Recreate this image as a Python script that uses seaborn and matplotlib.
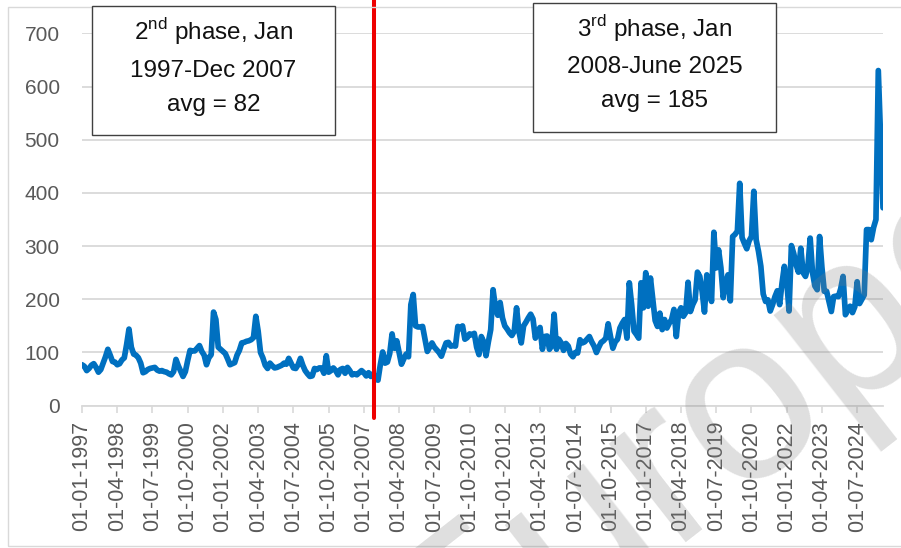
import matplotlib
matplotlib.use("Agg")
import matplotlib.pyplot as plt
import matplotlib.transforms as mtransforms
from matplotlib.patches import Rectangle
import seaborn as sns
import pandas as pd
import numpy as np

# ---------------- data (monthly, Jan 1997 - Jun 2025) ----------------
start_month = "1997-01-01"

phase2_values = [
    77, 74, 66, 70, 76, 79, 72, 63, 68, 80, 92, 106,        # 1997
    95, 83, 82, 77, 79, 86, 90, 115, 144, 110, 97, 95,      # 1998
    90, 80, 62, 64, 68, 70, 71, 72, 67, 65, 66, 64,         # 1999
    63, 60, 58, 64, 87, 75, 65, 55, 64, 85, 104, 103,       # 2000
    103, 108, 113, 102, 95, 77, 90, 96, 176, 162, 110, 106, # 2001
    102, 98, 88, 77, 79, 81, 95, 104, 118, 119, 121, 122,   # 2002
    124, 128, 168, 140, 100, 90, 76, 70, 80, 75, 71, 72,    # 2003
    74, 76, 80, 78, 89, 80, 71, 70, 77, 89, 76, 66,         # 2004
    60, 55, 56, 70, 68, 71, 71, 61, 94, 63, 66, 71,         # 2005
    66, 58, 68, 70, 61, 72, 66, 58, 60, 58, 62, 66,         # 2006
    62, 56, 62, 55, 60, 50, 48, 77, 101, 80, 82, 98,        # 2007
]

phase3_values = [
    135, 108, 122, 100, 78, 88, 97, 92, 190, 209, 150, 148,     # 2008
    148, 149, 125, 102, 110, 118, 110, 105, 100, 93, 106, 118,  # 2009
    119, 112, 113, 112, 149, 145, 150, 125, 128, 135, 133, 136, # 2010
    110, 96, 130, 120, 94, 120, 143, 218, 185, 170, 194, 165,   # 2011
    150, 144, 137, 132, 140, 184, 140, 118, 150, 157, 165, 172, # 2012
    163, 127, 140, 147, 106, 130, 131, 106, 113, 172, 106, 125, # 2013
    118, 104, 117, 112, 97, 92, 100, 99, 124, 118, 120, 125,    # 2014
    130, 120, 112, 100, 110, 119, 122, 127, 154, 130, 108, 120, # 2015
    125, 146, 155, 162, 127, 231, 190, 140, 134, 127, 231, 184, # 2016
    250, 187, 240, 200, 160, 149, 174, 143, 162, 146, 155, 162, # 2017
    181, 130, 175, 184, 168, 175, 232, 177, 190, 199, 251, 243, # 2018
    215, 176, 246, 220, 196, 326, 259, 293, 259, 203, 230, 246, # 2019
    197, 318, 322, 328, 418, 316, 305, 295, 310, 318, 403, 312, # 2020
    290, 262, 210, 196, 199, 178, 190, 205, 216, 190, 230, 262, # 2021
    236, 178, 301, 286, 265, 251, 296, 250, 243, 260, 315, 250, # 2022
    225, 218, 318, 260, 215, 215, 196, 177, 205, 206, 205, 220, # 2023
    243, 171, 180, 187, 175, 186, 233, 192, 200, 208, 331, 331, # 2024
    312, 335, 350, 630, 500, 372,                               # 2025
]

tick_labels = [
    "01-01-1997", "01-04-1998", "01-07-1999", "01-10-2000", "01-01-2002",
    "01-04-2003", "01-07-2004", "01-10-2005", "01-01-2007", "01-04-2008",
    "01-07-2009", "01-10-2010", "01-01-2012", "01-04-2013", "01-07-2014",
    "01-10-2015", "01-01-2017", "01-04-2018", "01-07-2019", "01-10-2020",
    "01-01-2022", "01-04-2023", "01-07-2024",
]
tick_step = 15          # months between labelled ticks
y_ticks = [0, 100, 200, 300, 400, 500, 600, 700]

phase_line_month = 124.1  # position of the red phase divider (month index)

box1_lines = [r"2$^{\mathregular{nd}}$ phase, Jan", "1997-Dec 2007", "avg = 82"]
box2_lines = [r"3$^{\mathregular{rd}}$ phase, Jan", "2008-June 2025", "avg = 185"]
watermark_text = "Europe"

# ---------------- build frame ----------------
values = phase2_values + phase3_values
df = pd.DataFrame({
    "month": np.arange(len(values)),
    "date": pd.date_range(start_month, periods=len(values), freq="MS"),
    "value": values,
})

# ---------------- style ----------------
sns.set_theme(style="white")
plt.rcParams["font.family"] = ["Liberation Sans", "DejaVu Sans"]
plt.rcParams["mathtext.fontset"] = "custom"
plt.rcParams["mathtext.rm"] = "Liberation Sans"

W, H = 901, 548
fig = plt.figure(figsize=(W / 100, H / 100), dpi=100)
fig.patch.set_facecolor("white")

def fx(px):
    return px / W

def fy(py):
    return 1 - py / H

# chart-area border
fig.patches.append(Rectangle((fx(8), fy(546)), fx(960) - fx(8), fy(7) - fy(546),
                             transform=fig.transFigure, fill=False,
                             edgecolor="#d9d9d9", linewidth=1.0, zorder=0))

ax_left, ax_right, ax_bottom, ax_top = 82, 883, 405.7, 33.3
ax = fig.add_axes([fx(ax_left), fy(ax_bottom), fx(ax_right) - fx(ax_left),
                   fy(ax_top) - fy(ax_bottom)])
ax.set_facecolor("none")

sns.lineplot(data=df, x="month", y="value", ax=ax, color="#0070C0",
             linewidth=4.1, solid_joinstyle="round", solid_capstyle="round",
             zorder=3)

ax.set_xlim(0, len(values) - 1)
ax.set_ylim(0, 700)
ax.set_yticks(y_ticks)
ax.set_yticklabels([str(v) for v in y_ticks])
ticks = np.arange(0, len(values), tick_step)[:len(tick_labels)]
ax.set_xticks(ticks)
ax.set_xticklabels(tick_labels, rotation=90)

ax.grid(axis="y", color="#d9d9d9", linewidth=1.3)
ax.grid(axis="x", visible=False)
ax.set_axisbelow(True)
for s in ["top", "right", "left"]:
    ax.spines[s].set_visible(False)
ax.spines["bottom"].set_color("#d9d9d9")
ax.spines["bottom"].set_linewidth(1.3)

ax.tick_params(axis="y", length=0, pad=16, labelsize=15, labelcolor="#595959")
ax.tick_params(axis="x", length=5, width=1.2, color="#d9d9d9", direction="out",
               pad=6, labelsize=15.5, labelcolor="#595959", bottom=True)
ax.set_xlabel("")
ax.set_ylabel("")

# red phase divider (extends beyond the plot area)
trans = mtransforms.blended_transform_factory(ax.transData, ax.transAxes)
ax_h = ax_bottom - ax_top
ax.plot([phase_line_month, phase_line_month],
        [-(418 - ax_bottom) / ax_h, 1 + ax_top / ax_h],
        transform=trans, color="#ee0000", linewidth=2.9, clip_on=False, zorder=5)

# text boxes
def text_box(x0, y0, x1, y1, lines, baselines):
    fig.patches.append(Rectangle((fx(x0), fy(y1)), fx(x1) - fx(x0), fy(y0) - fy(y1),
                                 transform=fig.transFigure, facecolor="white",
                                 edgecolor="#404040", linewidth=1.0, zorder=10))
    cx = fx((x0 + x1) / 2)
    for line, b in zip(lines, baselines):
        fig.text(cx, fy(b), line, ha="center", va="baseline", fontsize=17.5,
                 color="#111111", zorder=11)

text_box(92, 6, 335, 135, box1_lines, [40, 77, 111])
text_box(533, 3, 776, 132, box2_lines, [37, 73, 107])

# watermark
fig.text(fx(705), fy(435), watermark_text, fontsize=170, color="#7f7f7f", alpha=0.25,
         rotation=38, ha="center", va="center", zorder=20, fontweight="normal")

fig.savefig("out.png", dpi=100, facecolor="white")
